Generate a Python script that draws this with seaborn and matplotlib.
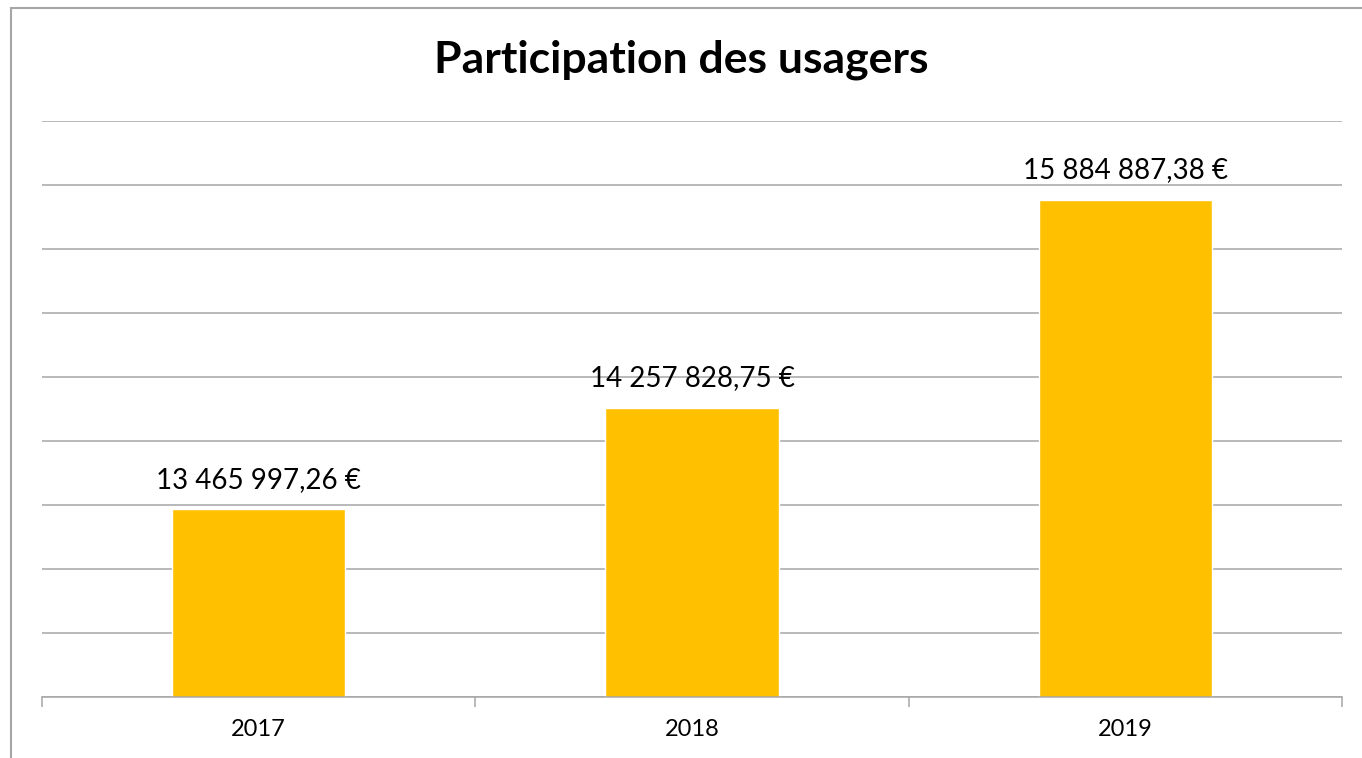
import numpy as np
import pandas as pd
import matplotlib
matplotlib.use('Agg')
import matplotlib.pyplot as plt
import matplotlib.patches as patches
from matplotlib.ticker import FixedLocator, MultipleLocator
import seaborn as sns

# Données
annees = ['2017', '2018', '2019']
montants = [13465997.26, 14257828.75, 15884887.38]

df = pd.DataFrame({'annee': annees, 'montant': montants})


def format_euro(v):
    entier, dec = f"{v:,.2f}".split('.')
    return entier.replace(',', ' ') + ',' + dec + ' €'


sns.set_style('white')
plt.rcParams['font.family'] = ['Lato', 'DejaVu Sans']
plt.rcParams['text.color'] = 'black'
plt.rcParams['xtick.color'] = 'black'

fig = plt.figure(figsize=(13.62, 7.58), dpi=100)
ax = fig.add_axes([42 / 1362, 1 - 697 / 758, 1300 / 1362, 576 / 758])

sns.barplot(data=df, x='annee', y='montant', color='#FFC000', saturation=1,
            width=0.4, ax=ax)

ax.set_xlim(-0.5, 2.5)
ax.set_ylim(12000000, 16500000)
ax.yaxis.set_major_locator(MultipleLocator(500000))
ax.set_yticklabels([])
ax.tick_params(axis='y', length=0)
ax.grid(axis='y', color='#A6A6A6', linewidth=1.1)
ax.set_axisbelow(True)

for s in ['left', 'right', 'top']:
    ax.spines[s].set_visible(False)
ax.spines['bottom'].set_color('#A6A6A6')
ax.spines['bottom'].set_linewidth(1.1)

ax.xaxis.set_minor_locator(FixedLocator([-0.5, 0.5, 1.5, 2.5]))
ax.tick_params(axis='x', which='major', bottom=True, length=0, labelsize=17,
               labelcolor='black', pad=16)
ax.tick_params(axis='x', which='minor', bottom=True, length=7, width=1.1,
               color='#A6A6A6', direction='out')
ax.set_xlabel('')
ax.set_ylabel('')

ax.bar_label(ax.containers[0], labels=[format_euro(v) for v in montants],
             padding=12, fontsize=20, color='black')

fig.text(0.5, 1 - 60 / 758, 'Participation des usagers', ha='center',
         va='center', fontsize=32, fontweight='bold', color='black')

# cadre du graphique
fig.patches.append(patches.Rectangle((11 / 1362, -0.1), 1.2, 1 - 8.5 / 758 + 0.1,
                                     transform=fig.transFigure, fill=False,
                                     edgecolor='#A6A6A6', linewidth=1.5))

fig.savefig('out.png', dpi=100)
